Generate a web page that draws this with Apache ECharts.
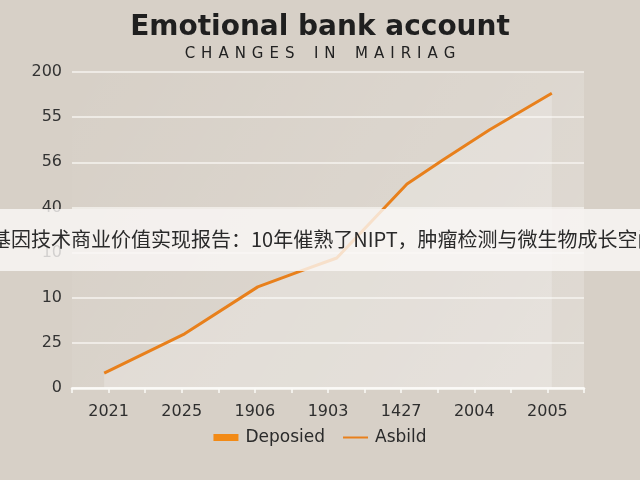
<!DOCTYPE html>
<html>
<head>
<meta charset="utf-8">
<script src="https://cdn.jsdelivr.net/npm/echarts@6/dist/echarts.min.js"></script>
<style>
html,body{margin:0;padding:0;background:#d7d0c7;}
#main{width:640px;height:480px;}
</style>
</head>
<body>
<div id="main"></div>
<script>
// Category tick labels (x) and the odd y tick labels as printed
var xLabels = ['2021', '2025', '1906', '1903', '1427', '2004', '2005'];
var yLabels = ['0', '25', '10', '10', '40', '56', '55', '200'];
// Line vertices in axis units (x: category slot, y: gridline step)
var pointX = [0.44, 1.54, 2.54, 3.16, 3.62, 4.58, 5.07, 5.71, 6.56];
var pointY = [0.33, 1.20, 2.24, 2.61, 2.88, 4.52, 5.05, 5.72, 6.53];
var seriesNames = ['Deposied', 'Asbild'];
var titleText = 'Emotional bank account';
var subtitleText = 'CHANGES IN MAIRIAG';
var bannerText = '基因技术商业价值实现报告：10年催熟了NIPT，肿瘤检测与微生物成长空间';

function spaced(s) {
  return s.split(' ').map(function (w) {
    return w.split('').join('\u2009\u2009');
  }).join('\u2009\u2009\u2002\u2009\u2009');
}

var data = pointX.map(function (x, i) { return [x, pointY[i]]; });
var orange = '#e8801c';

var chart = echarts.init(document.getElementById('main'), null, {renderer: 'canvas'});
chart.setOption({
  backgroundColor: '#d7d0c7',
  animation: false,
  grid: {
    left: 72, right: 56, top: 72, bottom: 92,
    show: true, borderWidth: 0,
    backgroundColor: {
      type: 'linear', x: 0, y: 0, x2: 1, y2: 1,
      colorStops: [
        {offset: 0, color: 'rgba(255,255,255,0)'},
        {offset: 1, color: 'rgba(255,255,255,0.22)'}
      ]
    }
  },
  legend: {
    bottom: 29, left: 'center',
    itemWidth: 25, itemHeight: 7, itemGap: 18,
    textStyle: {fontFamily: 'DejaVu Sans', fontSize: 17, color: '#2a2a2a', padding: [0, 0, 0, 2]},
    data: [
      {name: seriesNames[0], icon: 'rect'},
      {name: seriesNames[1], icon: 'path://M0,0H25V2H0Z'}
    ]
  },
  xAxis: {
    type: 'value', min: 0, max: 7, interval: 0.5,
    axisLine: {show: true, lineStyle: {color: '#fbfaf7', width: 2.5}},
    axisTick: {show: true, length: 5, lineStyle: {color: '#fbfaf7', width: 1.5}},
    splitLine: {show: false},
    axisLabel: {
      margin: 16,
      fontFamily: 'DejaVu Sans', fontSize: 16, color: '#2e2e2e',
      showMinLabel: true, showMaxLabel: true,
      formatter: function (v) {
        var f = v - Math.floor(v);
        if (Math.abs(f - 0.5) < 1e-6) { return xLabels[Math.floor(v)] || ''; }
        return '';
      }
    }
  },
  yAxis: {
    type: 'value', min: 0, max: 7, interval: 1,
    axisLine: {show: false}, axisTick: {show: false},
    splitLine: {lineStyle: {color: '#f6f3ef', width: 1.5}},
    axisLabel: {
      margin: 10,
      fontFamily: 'DejaVu Sans', fontSize: 16, color: '#333333',
      formatter: function (v) { return yLabels[Math.round(v)]; }
    }
  },
  series: [
    {
      name: seriesNames[0], type: 'line', data: data,
      showSymbol: false, symbol: 'none',
      itemStyle: {color: '#f28a16'},
      lineStyle: {width: 0, opacity: 0},
      areaStyle: {color: 'rgba(255,255,255,0.22)', opacity: 1},
      z: 2
    },
    {
      name: seriesNames[1], type: 'line', data: data,
      showSymbol: false, symbol: 'none',
      itemStyle: {color: orange},
      lineStyle: {width: 3, color: orange},
      z: 3
    }
  ],
  graphic: [
    {
      type: 'text', left: 'center', top: 14,
      style: {text: titleText, fontFamily: 'DejaVu Sans', fontWeight: 'bold', fontSize: 28, fill: '#1f1f1f'}
    },
    {
      type: 'text', left: 'center', top: 47,
      style: {text: spaced(subtitleText), fontFamily: 'DejaVu Sans', fontSize: 15, fill: '#222222'}
    },
    {
      type: 'rect', left: 0, top: 209, z: 100,
      shape: {width: 640, height: 62},
      style: {fill: 'rgba(250,248,246,0.8)'}
    },
    {
      type: 'text', left: -9, top: 229, z: 101,
      style: {text: bannerText, fontFamily: 'Noto Sans CJK SC', fontSize: 20, fill: '#2a2a2a'}
    }
  ]
});
</script>
</body>
</html>
